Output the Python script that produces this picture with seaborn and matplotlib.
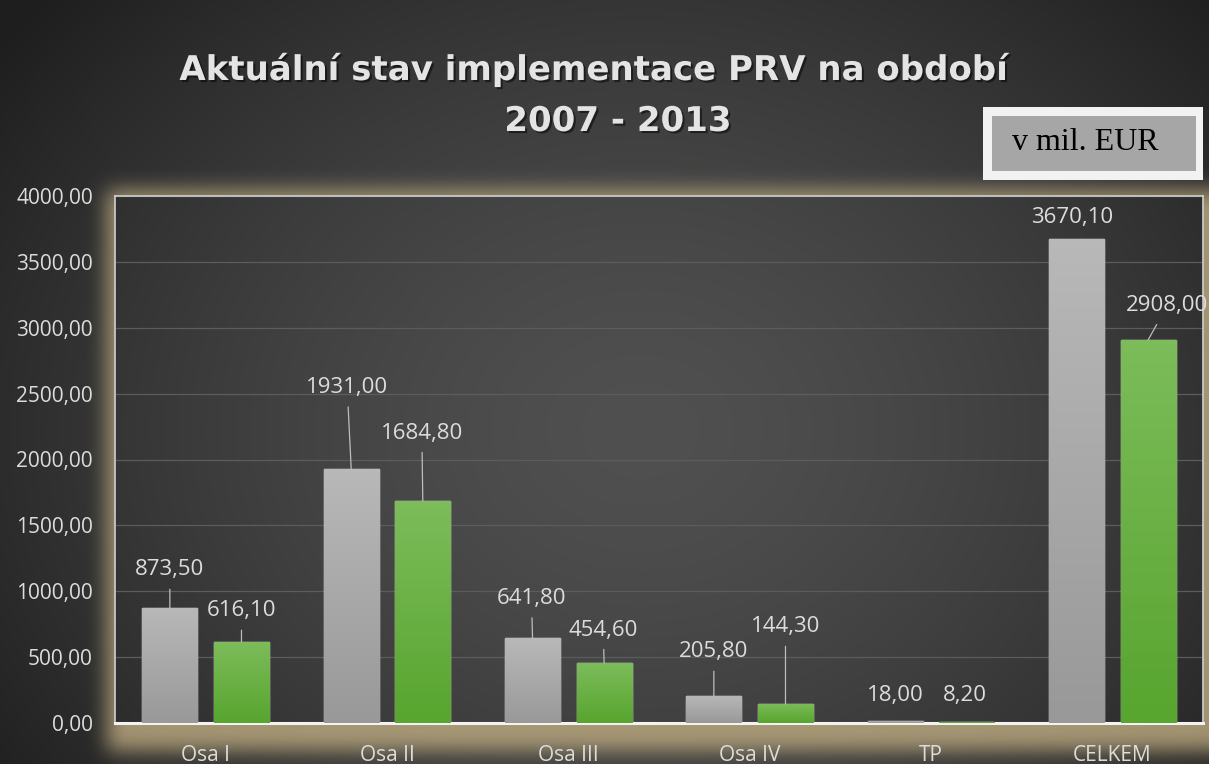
import numpy as np
import pandas as pd
import matplotlib
matplotlib.use("Agg")
import matplotlib.pyplot as plt
import matplotlib.patheffects as pe
from matplotlib.colors import LinearSegmentedColormap
from matplotlib.patches import Rectangle
import seaborn as sns

# data (mil. EUR)
categories = ["Osa I", "Osa II", "Osa III", "Osa IV", "TP", "CELKEM"]
series_names = ["Alokace", "Čerpání"]
allocated = [873.50, 1931.00, 641.80, 205.80, 18.00, 3670.10]
paid = [616.10, 1684.80, 454.60, 144.30, 8.20, 2908.00]
y_ticks = [0, 500, 1000, 1500, 2000, 2500, 3000, 3500, 4000]

# label placement (pixels from bar top) and whether a leader line is drawn
label_offsets = [
    [(0, 38), (-4, 81), (-1, 40), (0, 44), (0, 25), (-4, 22)],
    [(0, 31), (-1, 68), (-1, 33), (0, 77), (-2, 26), (19, 34)],
]
leaders = [
    [True, True, True, True, False, False],
    [True, True, True, True, False, True],
]

W, H = 1209, 764
GRAY = "#a8a8a8"
GREEN = "#69b043"
TXT = "#dcdcdc"


def fmt(v):
    return f"{v:.2f}".replace(".", ",")


def box_blur(a, r, axis):
    c = np.cumsum(np.pad(a, [(r + 1, r) if i == axis else (0, 0) for i in range(2)], mode="edge"), axis=axis)
    if axis == 0:
        return (c[2 * r + 1:] - c[:-2 * r - 1]) / (2 * r + 1)
    return (c[:, 2 * r + 1:] - c[:, :-2 * r - 1]) / (2 * r + 1)


def blur(a, r):
    for _ in range(3):
        a = box_blur(a, r, 0)
        a = box_blur(a, r, 1)
    return a


sns.set_theme(style="white")
plt.rcParams["font.family"] = ["Open Sans", "DejaVu Sans"]

fig = plt.figure(figsize=(W / 100, H / 100), dpi=100)
fig.patch.set_facecolor("#1e1e1e")

# dark radial background with a golden glow round the plot area
yy, xx = np.mgrid[0:H, 0:W]
r = np.sqrt(((xx - 640) / 800.0) ** 2 + ((yy - 430) / 650.0) ** 2)
t = np.clip(r, 0, 1) ** 1.5
lum = (80 - 50 * t) / 255.0
img = np.dstack([lum, lum, lum])

px0, px1, py0, py1 = 115, 1203, 196, 723
src = np.zeros((H, W))
src[py0 - 6:py1 + 28, px0 - 8:W] = 1.0
glow = blur(src, 9)
inside = np.zeros((H, W))
inside[py0:py1, px0:px1] = 1.0
alpha = np.clip(glow * 0.8, 0, 1) * (1 - inside)
gcol = np.array([0xc0, 0xad, 0x82]) / 255.0
img = img * (1 - alpha[..., None]) + gcol * alpha[..., None]

ax_bg = fig.add_axes([0, 0, 1, 1])
ax_bg.imshow(img, aspect="auto", interpolation="bilinear")
ax_bg.axis("off")

# main chart
df = pd.DataFrame({
    "kategorie": categories * 2,
    "serie": [series_names[0]] * len(categories) + [series_names[1]] * len(categories),
    "hodnota": allocated + paid,
})

ax = fig.add_axes([px0 / W, 1 - py1 / H, (px1 - px0) / W, (py1 - py0) / H])
ax.set_facecolor("none")
sns.barplot(data=df, x="kategorie", y="hodnota", hue="serie", palette=[GRAY, GREEN],
            width=0.79, gap=0.23, saturation=1, legend=False, ax=ax, zorder=3)

ax.set_ylim(0, 4000)
ax.set_xlim(-0.5, len(categories) - 0.5)
ax.set_yticks(y_ticks)
ax.set_yticklabels([fmt(v) for v in y_ticks])
ax.set_xlabel("")
ax.set_ylabel("")
ax.tick_params(axis="y", colors=TXT, labelsize=15, length=0, pad=16)
ax.tick_params(axis="x", colors=TXT, labelsize=15, length=0, pad=16)
ax.yaxis.grid(True, color="#5c5c5c", linewidth=0.9)
ax.set_axisbelow(True)
for side in ["top", "left", "right"]:
    ax.spines[side].set_color("#cfcfcf")
    ax.spines[side].set_linewidth(1.2)
ax.spines["bottom"].set_color("#f2f2f2")
ax.spines["bottom"].set_linewidth(2.2)

# vertical gradient fill on each bar
grad = np.linspace(0, 1, 64).reshape(-1, 1)
cmaps = [LinearSegmentedColormap.from_list("g", ["#b8b8b8", "#999999"]),
         LinearSegmentedColormap.from_list("v", ["#7cbc5a", "#58a52f"])]
for i, cont in enumerate(ax.containers):
    for bar in cont:
        x0, w, h = bar.get_x(), bar.get_width(), bar.get_height()
        im = ax.imshow(grad, cmap=cmaps[i], extent=[x0, x0 + w, 0, h], aspect="auto",
                       origin="upper", zorder=3.5)
        im.set_clip_path(bar)
ax.set_xlim(-0.5, len(categories) - 0.5)
ax.set_ylim(0, 4000)

# data labels
values = [allocated, paid]
for i, cont in enumerate(ax.containers):
    for j, bar in enumerate(cont):
        xc = bar.get_x() + bar.get_width() / 2
        arrow = None
        if leaders[i][j]:
            arrow = dict(arrowstyle="-", color="#bdbdbd", lw=0.9, shrinkA=4, shrinkB=0)
        ax.annotate(fmt(values[i][j]), xy=(xc, bar.get_height()), xytext=label_offsets[i][j],
                    textcoords="offset pixels", ha="center", va="center", fontsize=16,
                    color=TXT, arrowprops=arrow, annotation_clip=False, zorder=5)

# title
shadow = [pe.withSimplePatchShadow(offset=(1.5, -1.5), shadow_rgbFace="black", alpha=0.5)]
fig.text(594 / W, 1 - 80 / H, "Aktuální stav implementace PRV na období", ha="center",
         va="baseline", fontsize=24.5, fontweight="bold", color="#e4e4e4",
         family="DejaVu Sans", path_effects=shadow)
fig.text(618 / W, 1 - 131 / H, "2007 - 2013", ha="center", va="baseline",
         fontsize=24.5, fontweight="bold", color="#e4e4e4", family="DejaVu Sans",
         path_effects=shadow)

# unit box
fig.add_artist(Rectangle((983 / W, 1 - 180 / H), 220 / W, 73 / H, transform=fig.transFigure,
                         facecolor="#f2f2f2", edgecolor="none"))
fig.add_artist(Rectangle((992 / W, 1 - 171 / H), 204 / W, 55 / H, transform=fig.transFigure,
                         facecolor="#a6a6a6", edgecolor="none"))
fig.text(1012 / W, 1 - 143 / H, "v mil. EUR", ha="left", va="center", fontsize=23,
         color="black", family="Liberation Serif")

fig.savefig("out.png", dpi=100, facecolor=fig.get_facecolor())
